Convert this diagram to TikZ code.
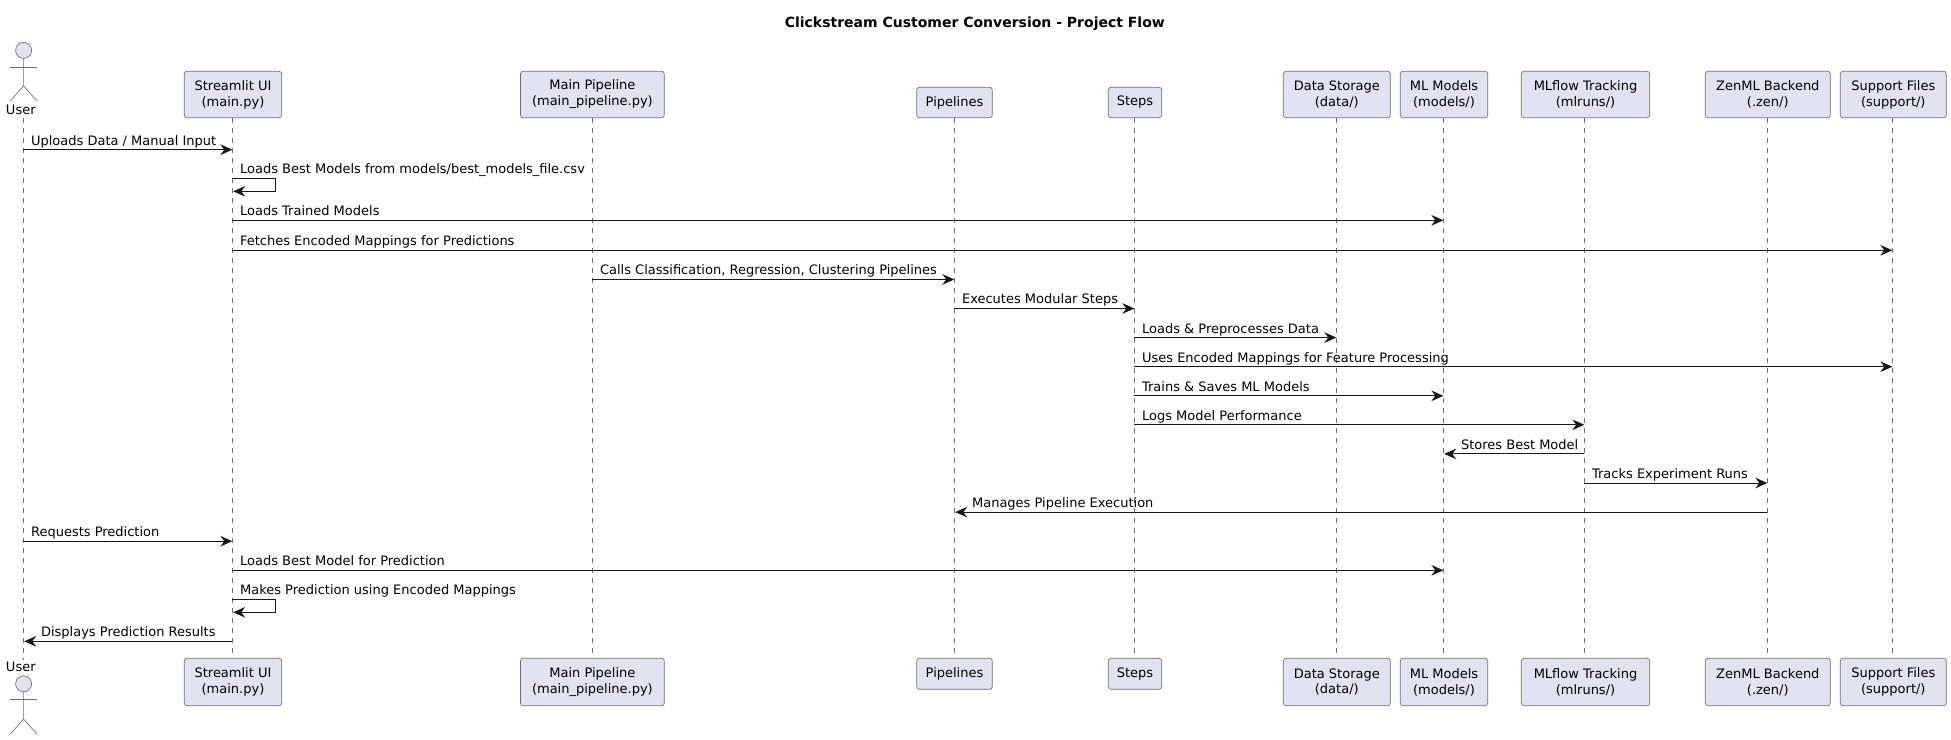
\documentclass[tikz,border=0pt]{standalone}
\usepackage{fontspec}
\setmainfont{DejaVu Sans}
\usetikzlibrary{arrows.meta,calc}
\definecolor{boxfill}{HTML}{E2E2F0}
\definecolor{ink}{HTML}{181818}
\definecolor{thinline}{HTML}{6E6E72}
\def\pxu{0.75pt}
\newcommand\pbox[5]{%
  \node[partbox,minimum width=#4*\pxu,minimum height=#5*\pxu] (#1) at (#2,#3) {\boxtext};}
\newcommand\partic[7]{% top name, bottom name, left, right, lifeline x, text, lines
  \def\boxtext{#6}%
  \pgfmathsetmacro\boxcx{(#3+#4)/2}%
  \pgfmathsetmacro\boxw{#4-#3}%
  \ifnum#7=2
    \pbox{#1}{\boxcx}{94.5}{\boxw}{46.4}%
    \pbox{#2}{\boxcx}{682}{\boxw}{47.4}%
  \else
    \pbox{#1}{\boxcx}{102.5}{\boxw}{30.4}%
    \pbox{#2}{\boxcx}{673.8}{\boxw}{31}%
  \fi
  \coordinate (#1L) at (#5,0);
  \draw[lifeline] (#1L |- #1.south) -- (#1L |- #2.north);}
\newcommand\msgright[5]{% id, from, to, y, text
  \coordinate (row#1) at (0,#4);
  \draw[msgline] (#2L |- row#1) -- (#3L |- row#1);
  \node[msglabel] (lab#1) at ($(#2L |- row#1)+(7.5,-4.6)$) {#5};}
\newcommand\msgleft[5]{%
  \coordinate (row#1) at (0,#4);
  \draw[msgline,shorten >=0.7pt] (#2L |- row#1) -- (#3L |- row#1);
  \node[msglabel] (lab#1) at ($(#3L |- row#1)+(17.5,-4.6)$) {#5};}
\newcommand\msgself[5]{% id, on, y1, y2, text
  \coordinate (row#1) at (0,#3);
  \coordinate (end#1) at (0,#4);
  \draw[msgline,shorten >=0.7pt] (#2L |- row#1) -- ++(42.7,0) |- (#2L |- end#1);
  \node[msglabel] (lab#1) at ($(#2L |- row#1)+(7.5,-4.6)$) {#5};}
\tikzset{
  x=\pxu,y=-\pxu,
  partbox/.style={draw=thinline,line width=0.5pt,fill=boxfill,rounded corners=2pt,inner sep=0pt,
    align=center,font=\fontsize{9.75pt}{11.9pt}\selectfont,text=black},
  lifeline/.style={draw=thinline,line width=0.5pt,dash pattern=on 3.75pt off 3.75pt},
  msgline/.style={draw=ink,line width=0.75pt,-{Stealth[length=9pt,width=8pt,inset=3pt]}},
  msglabel/.style={anchor=base west,inner sep=0pt,font=\fontsize{9.75pt}{11.9pt}\selectfont,text=black},
  actorline/.style={draw=thinline,line width=0.5pt},
  actorhead/.style={circle,draw=thinline,line width=0.5pt,fill=boxfill,inner sep=0pt,minimum size=12pt},
  actorname/.style={inner sep=0pt,font=\fontsize{9.75pt}{11.9pt}\selectfont,text=black},
}
\begin{document}
\begin{tikzpicture}
\useasboundingbox (0,0) rectangle (1951,739);
\node[inner sep=0pt,font=\fontsize{10.5pt}{12pt}\selectfont\bfseries] (title) at (974.8,23.3) {Clickstream Customer Conversion - Project Flow};
% actors
\node[actorhead] (uhead) at (23.6,50.4) {};
\draw[actorline] (uhead.south) -- ++(0,27.2) coordinate (uhip) -- ++(-13.4,15) (uhip) -- ++(13.4,15);
\draw[actorline] ($(uhead.south)+(-13.4,8.2)$) -- ++(26.8,0);
\node[actorname] (ulabel) at (20.8,110.3) {User};
\node[actorhead] (bhead) at (23.6,683.8) {};
\draw[actorline] (bhead.south) -- ++(0,27) coordinate (bhip) -- ++(-13.4,15) (bhip) -- ++(13.4,15);
\draw[actorline] ($(bhead.south)+(-13.4,7.6)$) -- ++(26.8,0);
\node[actorname] (blabel) at (20.8,667) {User};
\coordinate (uL) at (23.3,118);
\coordinate (ub) at (23.3,660);
\draw[lifeline] (uL) -- (ub);
% participants
\partic{st}{stb}{184.3}{281.7}{232.3}{Streamlit UI\\(main.py)}{2}
\partic{mp}{mpb}{520.5}{664.3}{592.3}{Main Pipeline\\(main\_pipeline.py)}{2}
\partic{pi}{pib}{916.7}{992.3}{954.3}{Pipelines}{1}
\partic{se}{seb}{1108.3}{1161.7}{1134.3}{Steps}{1}
\partic{ds}{dsb}{1283.3}{1390.3}{1336.3}{Data Storage\\(data/)}{2}
\partic{ml}{mlb}{1400.3}{1487.7}{1443.3}{ML Models\\(models/)}{2}
\partic{mf}{mfb}{1521.3}{1649.7}{1584.3}{MLflow Tracking\\(mlruns/)}{2}
\partic{ze}{zeb}{1705.3}{1830.3}{1767.3}{ZenML Backend\\(.zen/)}{2}
\partic{su}{sub}{1840.3}{1946.3}{1892.3}{Support Files\\(support/)}{2}
% messages
\msgright{a}{u}{st}{149.7}{Uploads Data / Manual Input}
\msgself{b}{st}{178.3}{191.3}{Loads Best Models from models/best\_models\_file.csv}
\msgright{c}{st}{ml}{220.3}{Loads Trained Models}
\msgright{d}{st}{su}{250.3}{Fetches Encoded Mappings for Predictions}
\msgright{e}{mp}{pi}{279.4}{Calls Classification, Regression, Clustering Pipelines}
\msgright{f}{pi}{se}{308.5}{Executes Modular Steps}
\msgright{g}{se}{ds}{337.6}{Loads \& Preprocesses Data}
\msgright{h}{se}{su}{366.7}{Uses Encoded Mappings for Feature Processing}
\msgright{i}{se}{ml}{395.8}{Trains \& Saves ML Models}
\msgright{j}{se}{mf}{424.8}{Logs Model Performance}
\msgleft{k}{mf}{ml}{453.9}{Stores Best Model}
\msgright{l}{mf}{ze}{483}{Tracks Experiment Runs}
\msgleft{m}{ze}{pi}{512.1}{Manages Pipeline Execution}
\msgright{n}{u}{st}{541.2}{Requests Prediction}
\msgright{o}{st}{ml}{570.3}{Loads Best Model for Prediction}
\msgself{p}{st}{599.3}{612.3}{Makes Prediction using Encoded Mappings}
\msgleft{q}{st}{u}{641.3}{Displays Prediction Results}
\end{tikzpicture}
\end{document}
